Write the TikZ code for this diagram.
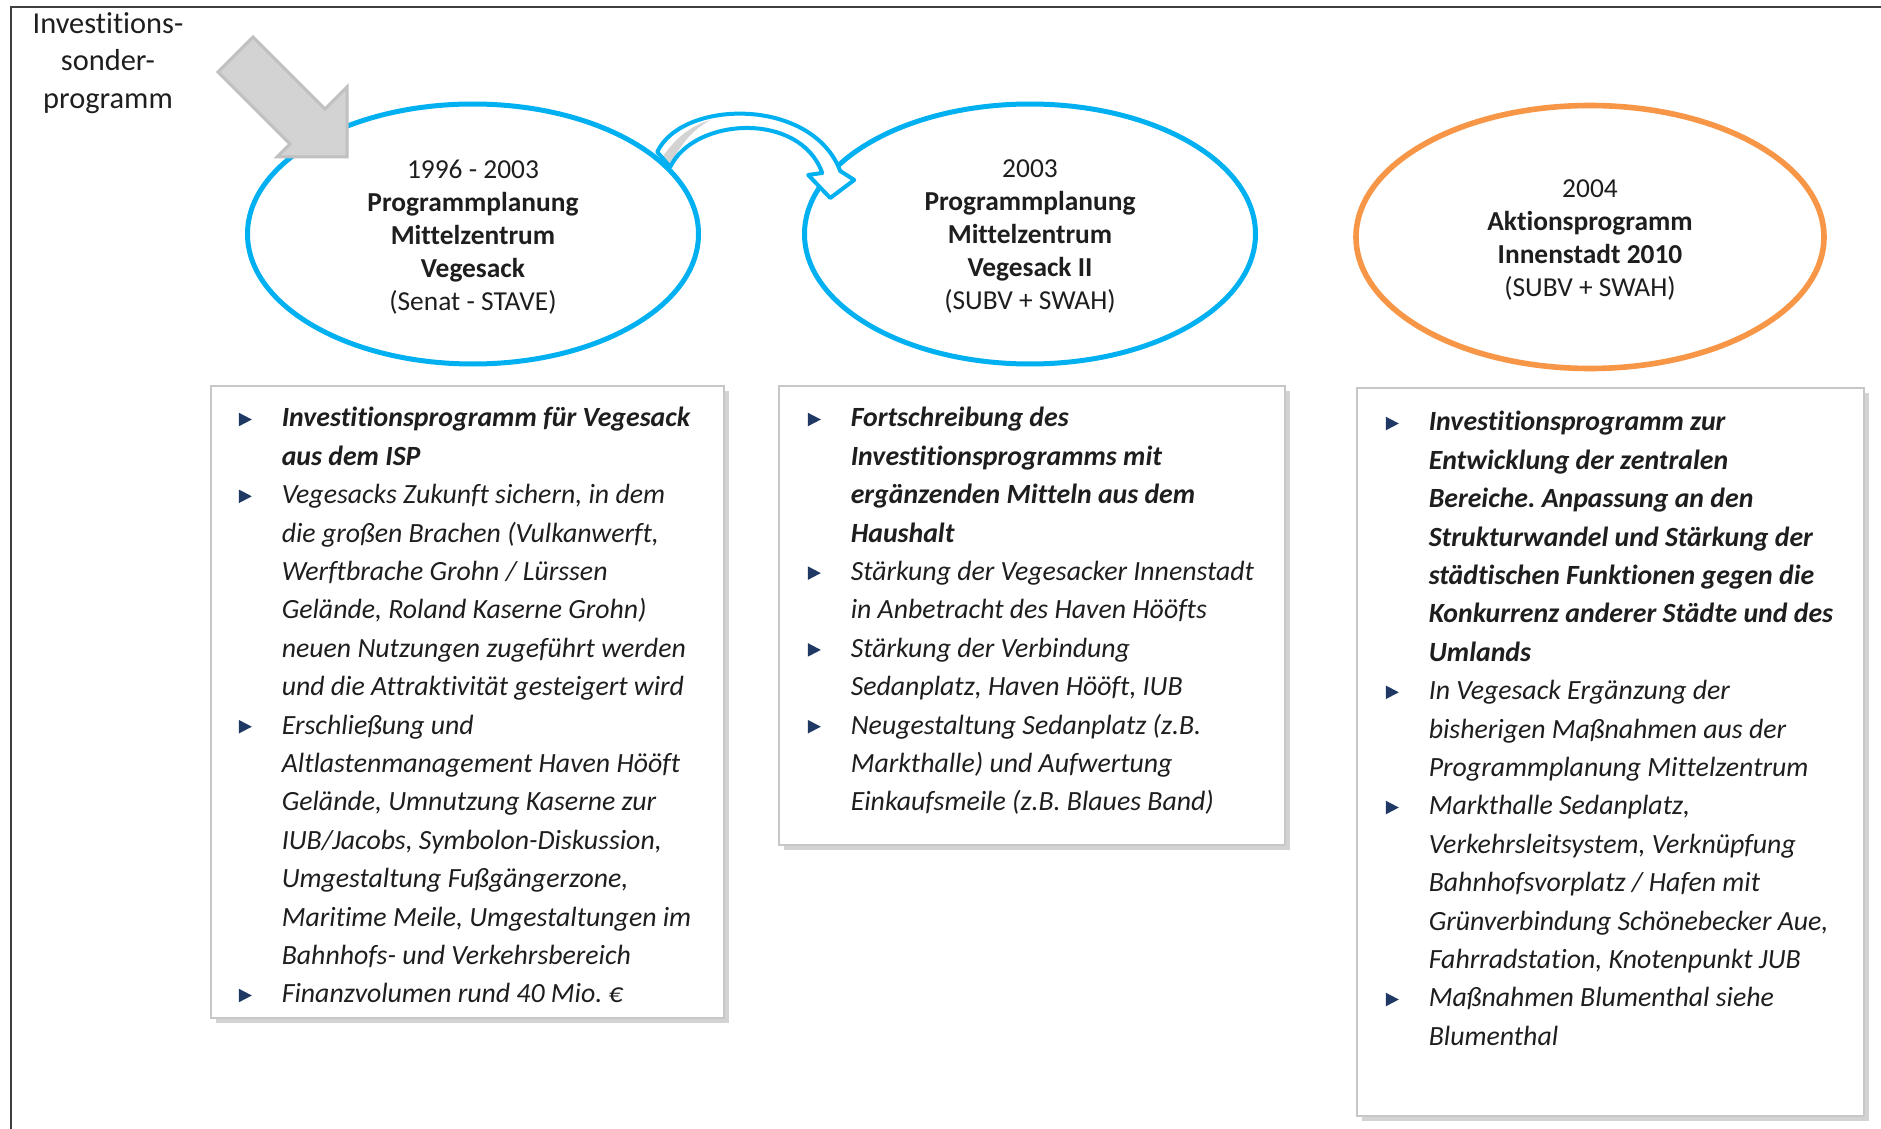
\documentclass[tikz,border=0pt]{standalone}
\usepackage{fontspec}
\setmainfont{Carlito}[Ligatures=NoCommon]
\usetikzlibrary{shapes.geometric,shadows,positioning}
\frenchspacing

\definecolor{skyblue}{HTML}{00B0F0}
\definecolor{planorange}{HTML}{F79646}
\definecolor{navybul}{HTML}{1F3864}
\definecolor{arrowgray}{HTML}{D3D3D3}
\definecolor{arrowedge}{HTML}{C0C0C0}
\definecolor{textdark}{HTML}{1E1E1E}

% bullet and indent for the lists
\newcommand{\bul}{\makebox[21.5pt][l]{\tikz[baseline=-0.3pt]\fill[navybul] (0,0) -- (6.5pt,3.4pt) -- (0,6.8pt) -- cycle;}}
\newcommand{\ind}{\hspace*{21.5pt}}

\tikzset{
  prog/.style={ellipse, draw=skyblue, line width=2.5pt, fill=white,
    inner sep=0pt, minimum width=225.5pt, minimum height=130pt},
  progtext/.style={align=center, inner sep=0pt, text=textdark,
    font=\fontsize{13.7}{16.5}\selectfont},
  infobox/.style={draw=black!22, line width=0.6pt, fill=white,
    drop shadow={shadow xshift=2.5pt, shadow yshift=-2.5pt, opacity=0.35}},
  boxtext/.style={align=left, inner sep=0pt, text=textdark,
    font=\fontsize{13.9}{19.2}\selectfont\itshape}
}

\begin{document}
\begin{tikzpicture}[x=0.5pt,y=-0.5pt]
  \useasboundingbox (0,0) rectangle (1881,1129);
  \draw[black!75, line width=1pt] (11,1129) -- (11,7) -- (1881,7);

  \node[align=center, text=textdark, font=\fontsize{15.2}{18.75}\selectfont] (isp) at (108,63)
    {Investitions-\\sonder-\\programm};

  % the three programmes
  \node[prog] (e1) at (473,234) {};
  \node[prog] (e2) at (1030,234) {};
  \node[prog, draw=planorange, line width=2.8pt, minimum width=234pt, minimum height=131.5pt] (e3) at (1590,237) {};
  \node[progtext] (l1) at ([yshift=-1.5pt]e1.center)
    {1996 - 2003\\\textbf{Programmplanung}\\\textbf{Mittelzentrum}\\\textbf{Vegesack}\\(Senat - STAVE)};
  \node[progtext] (l2) at ([yshift=-1.5pt]e2.center)
    {2003\\\textbf{Programmplanung}\\\textbf{Mittelzentrum}\\\textbf{Vegesack II}\\(SUBV + SWAH)};
  \node[progtext] (l3) at ([yshift=-1.5pt]e3.center)
    {2004\\\textbf{Aktionsprogramm}\\\textbf{Innenstadt 2010}\\(SUBV + SWAH)};

  % curved arrow e1 -> e2
  \begin{scope}[shift={(e1.21)}]
    \fill[white] (-6,-9) .. controls (19,-62) and (149,-64) .. (177,10) -- (191,19) -- (167,37)
      -- (145,14) -- (159,12) .. controls (137,-50) and (31,-44) .. (7,6) -- cycle;
    \fill[arrowgray] (-2,-2) .. controls (11,-22) and (27,-35) .. (47,-41)
      .. controls (31,-32) and (16,-17) .. (7,6) -- cycle;
    \draw[skyblue, line width=2pt, line join=round] (-6,-9) .. controls (19,-62) and (149,-64) .. (177,10)
      -- (191,19) -- (167,37) -- (145,14) -- (159,12) .. controls (137,-50) and (31,-44) .. (7,6) -- cycle;
  \end{scope}

  % big grey arrow into e1
  \filldraw[fill=arrowgray, draw=arrowedge, line width=1.5pt, line join=miter]
    (253,37) -- (325,109) -- (347,87) -- (347,157) -- (277,157) -- (290,144) -- (218,72) -- cycle;

  % boxes
  \node[infobox, minimum width=256.5pt, minimum height=316pt] (b1) at (467.5,702) {};
  \node[infobox, minimum width=253pt, minimum height=229.5pt] (b2) at (1032,615.5) {};
  \node[infobox, minimum width=253.5pt, minimum height=364pt] (b3) at (1610.5,752) {};

  \node[boxtext, below right=10.8pt and 14pt of b1.north west] (t1) {%
    \bul\textbf{Investitionsprogramm für Vegesack}\\
    \ind\textbf{aus dem ISP}\\
    \bul Vegesacks Zukunft sichern, in dem\\
    \ind die großen Brachen (Vulkanwerft,\\
    \ind Werftbrache Grohn / Lürssen\\
    \ind Gelände, Roland Kaserne Grohn)\\
    \ind neuen Nutzungen zugeführt werden\\
    \ind und die Attraktivität gesteigert wird\\
    \bul Erschließung und\\
    \ind Altlastenmanagement Haven Hööft\\
    \ind Gelände, Umnutzung Kaserne zur\\
    \ind IUB/Jacobs, Symbolon-Diskussion,\\
    \ind Umgestaltung Fußgängerzone,\\
    \ind Maritime Meile, Umgestaltungen im\\
    \ind Bahnhofs- und Verkehrsbereich\\
    \bul Finanzvolumen rund 40 Mio. €};

  \node[boxtext, below right=10.8pt and 14.5pt of b2.north west] (t2) {%
    \bul\textbf{Fortschreibung des}\\
    \ind\textbf{Investitionsprogramms mit}\\
    \ind\textbf{ergänzenden Mitteln aus dem}\\
    \ind\textbf{Haushalt}\\
    \bul Stärkung der Vegesacker Innenstadt\\
    \ind in Anbetracht des Haven Hööfts\\
    \bul Stärkung der Verbindung\\
    \ind Sedanplatz, Haven Hööft, IUB\\
    \bul Neugestaltung Sedanplatz (z.B.\\
    \ind Markthalle) und Aufwertung\\
    \ind Einkaufsmeile (z.B. Blaues Band)};

  \node[boxtext, below right=11.8pt and 14.5pt of b3.north west] (t3) {%
    \bul\textbf{Investitionsprogramm zur}\\
    \ind\textbf{Entwicklung der zentralen}\\
    \ind\textbf{Bereiche. Anpassung an den}\\
    \ind\textbf{Strukturwandel und Stärkung der}\\
    \ind\textbf{städtischen Funktionen gegen die}\\
    \ind\textbf{Konkurrenz anderer Städte und des}\\
    \ind\textbf{Umlands}\\
    \bul In Vegesack Ergänzung der\\
    \ind bisherigen Maßnahmen aus der\\
    \ind Programmplanung Mittelzentrum\\
    \bul Markthalle Sedanplatz,\\
    \ind Verkehrsleitsystem, Verknüpfung\\
    \ind Bahnhofsvorplatz / Hafen mit\\
    \ind Grünverbindung Schönebecker Aue,\\
    \ind Fahrradstation, Knotenpunkt JUB\\
    \bul Maßnahmen Blumenthal siehe\\
    \ind Blumenthal};
\end{tikzpicture}
\end{document}
